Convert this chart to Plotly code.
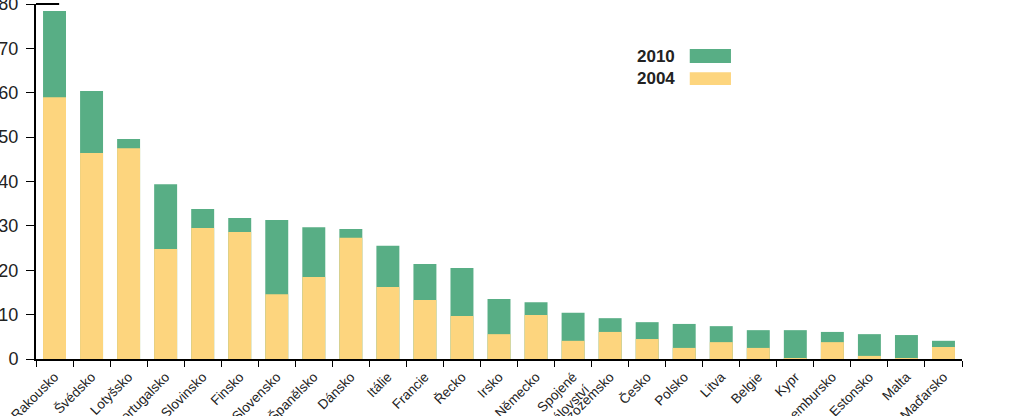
import plotly.graph_objects as go

countries = ["Rakousko", "Švédsko", "Lotyšsko", "Portugalsko", "Slovinsko", "Finsko",
             "Slovensko", "Španělsko", "Dánsko", "Itálie", "Francie", "Řecko", "Irsko",
             "Německo", "Spojené<br>království", "Nizozemsko", "Česko", "Polsko", "Litva",
             "Belgie", "Kypr", "Lucembursko", "Estonsko", "Malta", "Maďarsko"]
values_2010 = [78.4, 60.4, 49.6, 39.4, 33.8, 31.8, 31.3, 29.7, 29.3, 25.5, 21.4, 20.5, 13.5,
               12.8, 10.4, 9.2, 8.3, 7.9, 7.4, 6.5, 6.5, 6.1, 5.6, 5.4, 4.1]
values_2004 = [59.0, 46.4, 47.5, 24.8, 29.5, 28.6, 14.6, 18.5, 27.3, 16.2, 13.3, 9.7, 5.6,
               9.9, 4.1, 6.1, 4.5, 2.5, 3.8, 2.5, 0.2, 3.8, 0.7, 0.2, 2.7]
y_ticks = [0, 10, 20, 30, 40, 50, 60, 70, 80]

GREEN = "#58AE85"
YELLOW = "#FDD57E"
FONT = "Liberation Sans, Arial, sans-serif"

fig = go.Figure()
fig.add_trace(go.Bar(x=countries, y=values_2010, name="2010", marker_color=GREEN,
                     marker_line_width=0, width=0.62))
fig.add_trace(go.Bar(x=countries, y=values_2004, name="2004", marker_color=YELLOW,
                     marker_line_width=0, width=0.62))

fig.update_layout(
    width=1023, height=416,
    margin=dict(l=36, r=61, t=4, b=57, autoexpand=False),
    barmode="overlay",
    showlegend=False,
    plot_bgcolor="white", paper_bgcolor="white",
    font=dict(family=FONT, color="#222222"),
)
fig.update_xaxes(
    type="category", automargin=False,
    tickangle=-45, tickfont=dict(size=13.5, color="#222222"),
    showline=True, linecolor="black", linewidth=1.5,
    ticks="outside", tickson="boundaries", ticklen=6, tickcolor="black", tickwidth=1.2,
    ticklabelstandoff=3,
    showgrid=False, ticklabeloverflow="allow",
)
fig.update_yaxes(
    range=[0, 80], automargin=False,
    tickvals=y_ticks, tickfont=dict(size=18, color="#222222"),
    showline=True, linecolor="black", linewidth=2,
    ticks="outside", ticklen=8, tickcolor="black", tickwidth=1,
    ticklabelstandoff=4, ticklabeloverflow="allow",
    showgrid=False, zeroline=False,
)

# small cap line at the top of the y axis
fig.add_shape(type="line", xref="paper", yref="paper", x0=0, x1=0.025, y0=1, y1=1,
              line=dict(color="black", width=2))

# legend drawn as text + swatches (text left of swatch)
for label, color, y0, y1, yt in [("2010", GREEN, 0.834, 0.873, 0.8535),
                                 ("2004", YELLOW, 0.772, 0.808, 0.789)]:
    fig.add_shape(type="rect", xref="paper", yref="paper", x0=0.706, x1=0.7505,
                  y0=y0, y1=y1, fillcolor=color, line_width=0)
    fig.add_annotation(text="<b>" + label + "</b>", xref="paper", yref="paper",
                       x=0.692, y=yt, xanchor="right", yanchor="middle", showarrow=False,
                       font=dict(size=17, color="#222222", family=FONT))

fig.write_html("out.html", config={"displayModeBar": False},
               post_script="document.body.style.margin='0';")
